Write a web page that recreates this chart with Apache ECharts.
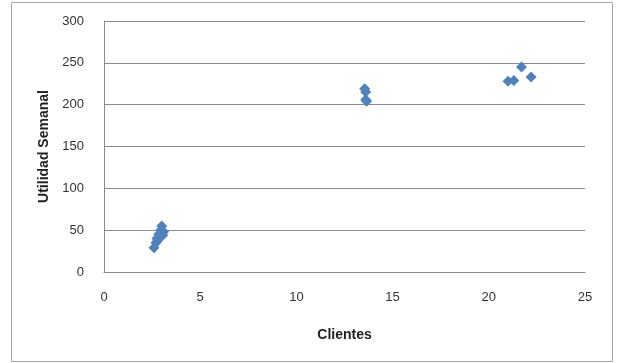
<!DOCTYPE html>
<html>
<head>
<meta charset="utf-8">
<script src="https://cdn.jsdelivr.net/npm/echarts@6/dist/echarts.min.js"></script>
<style>
  html, body { margin: 0; padding: 0; background: #fff; }
  #chart { width: 618px; height: 363px; }
</style>
</head>
<body>
<div id="chart"></div>
<script>
// Clientes vs Utilidad Semanal
const clientes = [2.6, 2.7, 2.75, 2.8, 2.85, 2.9, 2.95, 3.0, 3.05, 3.1, 13.55, 13.6, 13.6, 13.65, 21.0, 21.3, 21.7, 22.2];
const utilidad = [29, 35, 40, 38, 45, 42, 50, 55, 44, 48, 219, 215, 206, 204, 228, 229, 245, 233];
const xTicks = [0, 5, 10, 15, 20, 25];
const yTicks = [0, 50, 100, 150, 200, 250, 300];

const points = clientes.map((c, i) => [c, utilidad[i]]);
const font = "'Liberation Sans', 'DejaVu Sans', sans-serif";

const chart = echarts.init(document.getElementById("chart"), null, { renderer: "canvas" });
chart.setOption({
  backgroundColor: "#fff",
  animation: false,
  graphic: [{
    type: "rect",
    shape: { x: 11.5, y: 2.5, width: 601, height: 359 },
    style: { fill: "none", stroke: "#a6a6a6", lineWidth: 1 },
    silent: true,
  }],
  grid: { left: 104, right: 33, top: 21, bottom: 91 },
  xAxis: {
    type: "value",
    min: xTicks[0], max: xTicks[xTicks.length - 1], interval: 5,
    name: "Clientes", nameLocation: "middle", nameGap: 56,
    nameTextStyle: { fontFamily: font, fontWeight: "bold", fontSize: 14, color: "#222" },
    axisLine: { lineStyle: { color: "#8c8c8c" } },
    axisTick: { show: false },
    axisLabel: { fontFamily: font, fontSize: 13, color: "#333", margin: 19 },
    splitLine: { show: false },
  },
  yAxis: {
    type: "value",
    min: yTicks[0], max: yTicks[yTicks.length - 1], interval: 50,
    name: "Utilidad Semanal", nameLocation: "middle", nameGap: 53,
    nameTextStyle: { fontFamily: font, fontWeight: "bold", fontSize: 14, color: "#222" },
    axisLine: { show: true, lineStyle: { color: "#8c8c8c" } },
    axisTick: { show: false },
    axisLabel: { fontFamily: font, fontSize: 13, color: "#333", margin: 20 },
    splitLine: { lineStyle: { color: "#8c8c8c" } },
  },
  series: [{
    type: "scatter",
    data: points,
    symbol: "diamond",
    symbolSize: 11,
    itemStyle: { color: "#4f81bd", opacity: 1 },
  }],
});
</script>
</body>
</html>
